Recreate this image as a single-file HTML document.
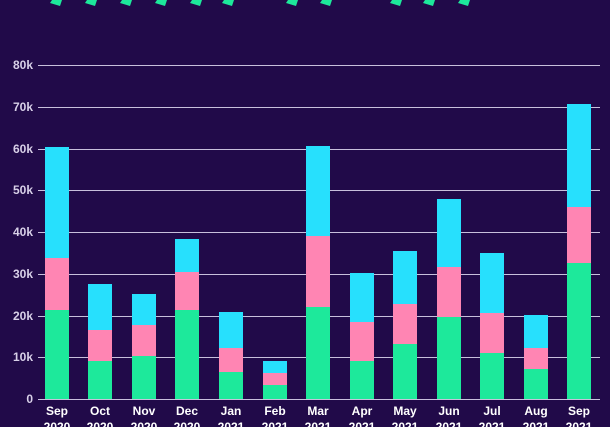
<!DOCTYPE html><html><head><style>body{margin:0;background:#210a49;}svg{display:block}</style></head><body>
<svg width="610" height="427" xmlns="http://www.w3.org/2000/svg" font-family="Liberation Sans, sans-serif">
<rect width="610" height="427" fill="#210a49"/>
<g fill="#1de99b">
<polygon points="52,0 62,0 60,6 50,3"/><polygon points="87,0 97,0 95,6 85,3"/><polygon points="122,0 132,0 130,6 120,3"/><polygon points="157,0 167,0 165,6 155,3"/><polygon points="192,0 202,0 200,6 190,3"/><polygon points="224,0 234,0 232,6 222,3"/><polygon points="288,0 298,0 296,6 286,3"/><polygon points="322,0 332,0 330,6 320,3"/><polygon points="392,0 402,0 400,6 390,3"/><polygon points="425,0 435,0 433,6 423,3"/><polygon points="460,0 470,0 468,6 458,3"/>
</g>
<g stroke="#c8c0dc" stroke-width="1">
<line x1="38" x2="600" y1="65.5" y2="65.5"/><line x1="38" x2="600" y1="107.5" y2="107.5"/><line x1="38" x2="600" y1="149.5" y2="149.5"/><line x1="38" x2="600" y1="190.5" y2="190.5"/><line x1="38" x2="600" y1="232.5" y2="232.5"/><line x1="38" x2="600" y1="274.5" y2="274.5"/><line x1="38" x2="600" y1="316.5" y2="316.5"/><line x1="38" x2="600" y1="357.5" y2="357.5"/><line x1="38" x2="600" y1="399.5" y2="399.5"/>
</g>
<g fill="#d8d0e8" font-size="12" font-weight="bold" text-anchor="end">
<text x="33" y="69">80k</text><text x="33" y="111">70k</text><text x="33" y="153">60k</text><text x="33" y="194">50k</text><text x="33" y="236">40k</text><text x="33" y="278">30k</text><text x="33" y="320">20k</text><text x="33" y="361">10k</text><text x="33" y="403">0</text>
</g>
<g>
<rect x="45" y="147" width="24" height="111" fill="#27e0fd"/><rect x="45" y="258" width="24" height="52" fill="#ff85b3"/><rect x="45" y="310" width="24" height="89" fill="#1de99b"/>
<rect x="88" y="284" width="24" height="46" fill="#27e0fd"/><rect x="88" y="330" width="24" height="31" fill="#ff85b3"/><rect x="88" y="361" width="24" height="38" fill="#1de99b"/>
<rect x="132" y="294" width="24" height="31" fill="#27e0fd"/><rect x="132" y="325" width="24" height="31" fill="#ff85b3"/><rect x="132" y="356" width="24" height="43" fill="#1de99b"/>
<rect x="175" y="239" width="24" height="33" fill="#27e0fd"/><rect x="175" y="272" width="24" height="38" fill="#ff85b3"/><rect x="175" y="310" width="24" height="89" fill="#1de99b"/>
<rect x="219" y="312" width="24" height="36" fill="#27e0fd"/><rect x="219" y="348" width="24" height="24" fill="#ff85b3"/><rect x="219" y="372" width="24" height="27" fill="#1de99b"/>
<rect x="263" y="361" width="24" height="12" fill="#27e0fd"/><rect x="263" y="373" width="24" height="12" fill="#ff85b3"/><rect x="263" y="385" width="24" height="14" fill="#1de99b"/>
<rect x="306" y="146" width="24" height="90" fill="#27e0fd"/><rect x="306" y="236" width="24" height="71" fill="#ff85b3"/><rect x="306" y="307" width="24" height="92" fill="#1de99b"/>
<rect x="350" y="273" width="24" height="49" fill="#27e0fd"/><rect x="350" y="322" width="24" height="39" fill="#ff85b3"/><rect x="350" y="361" width="24" height="38" fill="#1de99b"/>
<rect x="393" y="251" width="24" height="53" fill="#27e0fd"/><rect x="393" y="304" width="24" height="40" fill="#ff85b3"/><rect x="393" y="344" width="24" height="55" fill="#1de99b"/>
<rect x="437" y="199" width="24" height="68" fill="#27e0fd"/><rect x="437" y="267" width="24" height="50" fill="#ff85b3"/><rect x="437" y="317" width="24" height="82" fill="#1de99b"/>
<rect x="480" y="253" width="24" height="60" fill="#27e0fd"/><rect x="480" y="313" width="24" height="40" fill="#ff85b3"/><rect x="480" y="353" width="24" height="46" fill="#1de99b"/>
<rect x="524" y="315" width="24" height="33" fill="#27e0fd"/><rect x="524" y="348" width="24" height="21" fill="#ff85b3"/><rect x="524" y="369" width="24" height="30" fill="#1de99b"/>
<rect x="567" y="104" width="24" height="103" fill="#27e0fd"/><rect x="567" y="207" width="24" height="56" fill="#ff85b3"/><rect x="567" y="263" width="24" height="136" fill="#1de99b"/>
</g>
<g fill="#ffffff" font-size="12" font-weight="bold" text-anchor="middle">
<text x="57" y="415">Sep</text><text x="57" y="431">2020</text>
<text x="100" y="415">Oct</text><text x="100" y="431">2020</text>
<text x="144" y="415">Nov</text><text x="144" y="431">2020</text>
<text x="187" y="415">Dec</text><text x="187" y="431">2020</text>
<text x="231" y="415">Jan</text><text x="231" y="431">2021</text>
<text x="275" y="415">Feb</text><text x="275" y="431">2021</text>
<text x="318" y="415">Mar</text><text x="318" y="431">2021</text>
<text x="362" y="415">Apr</text><text x="362" y="431">2021</text>
<text x="405" y="415">May</text><text x="405" y="431">2021</text>
<text x="449" y="415">Jun</text><text x="449" y="431">2021</text>
<text x="492" y="415">Jul</text><text x="492" y="431">2021</text>
<text x="536" y="415">Aug</text><text x="536" y="431">2021</text>
<text x="579" y="415">Sep</text><text x="579" y="431">2021</text>
</g>
</svg></body></html>
